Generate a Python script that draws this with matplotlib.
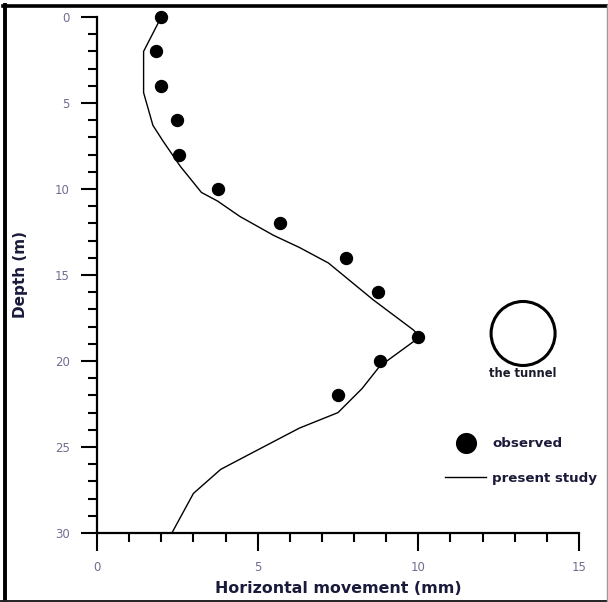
import matplotlib
matplotlib.use("Agg")
import matplotlib.pyplot as plt
from matplotlib.lines import Line2D
from matplotlib.patches import Ellipse

# observed data
obs_depth = [0, 2, 4, 6, 8, 10, 12, 14, 16, 18.6, 20, 22]
obs_move = [2.0, 1.85, 2.0, 2.5, 2.55, 3.75, 5.7, 7.75, 8.75, 10.0, 8.8, 7.5]

# present study
pred_depth = [0, 2.0, 4.4, 6.3, 7.2, 8.7, 10.2, 10.7, 11.6, 12.7, 13.4, 14.3,
              16.45, 18.2, 18.6, 20.3, 21.6, 23.0, 23.9, 25.2, 26.3, 27.7, 30]
pred_move = [2.0, 1.45, 1.45, 1.74, 2.05, 2.6, 3.25, 3.75, 4.45, 5.5, 6.3, 7.2,
             8.6, 9.85, 10.05, 8.8, 8.25, 7.5, 6.3, 4.97, 3.85, 3.0, 2.33]

x_ticks = [0, 5, 10, 15]
y_ticks = [0, 5, 10, 15, 20, 25, 30]

tunnel_center = (13.26, 18.4)

W, H = 608, 602
fig = plt.figure(figsize=(W / 100, H / 100), dpi=100)
ax = fig.add_axes([97 / W, 1 - 533 / H, (579 - 97) / W, (533 - 17) / H])

ax.plot(pred_move, pred_depth, color="black", lw=1.0, label="present study",
        clip_on=False, zorder=3)
ax.plot(obs_move, obs_depth, linestyle="none", marker="o", markersize=8.6,
        color="black", label="observed", clip_on=False, zorder=4)

ax.set_xlim(0, 15)
ax.set_ylim(30, 0)

for s in ["top", "right"]:
    ax.spines[s].set_visible(False)
for s in ["left", "bottom"]:
    ax.spines[s].set_linewidth(1.6)

tick_color = "#6e6e92"
ax.set_xticks(x_ticks)
ax.set_yticks(y_ticks)
ax.set_xticks([i for i in range(16) if i % 5], minor=True)
ax.set_yticks([i for i in range(31) if i % 5], minor=True)
ax.tick_params(axis="x", which="major", direction="out", length=13, width=1.5,
               pad=7, labelsize=8.5, labelcolor=tick_color)
ax.tick_params(axis="y", which="major", direction="out", length=11.5, width=1.5,
               pad=8, labelsize=8.5, labelcolor=tick_color)
ax.tick_params(which="minor", direction="out", length=6.5, width=1.5)

ax.set_xlabel("Horizontal movement (mm)", fontsize=11.4, fontweight="bold",
              color="#1a1a3a", labelpad=5)
ax.set_ylabel("Depth (m)", fontsize=11, fontweight="bold", color="#1a1a3a")
ax.yaxis.set_label_coords(-0.143, 0.5)

# tunnel
circ = Ellipse(tunnel_center, width=64 / 32.13, height=64 / 17.2, fill=False,
               edgecolor="black", lw=2.2, zorder=3)
ax.add_patch(circ)
ax.text(tunnel_center[0], tunnel_center[1] + 2.35, "the tunnel", ha="center",
        va="center", fontsize=8.3, fontweight="bold", color="#1a1a2a")

handles, labels = ax.get_legend_handles_labels()
leg = ax.legend(handles[::-1], labels[::-1], loc="center left",
                bbox_to_anchor=(0.722, 0.1395), frameon=False,
                prop={"weight": "bold", "size": 9.6},
                handlelength=3.1, handletextpad=0.45, labelspacing=1.6,
                borderpad=0, borderaxespad=0, markerscale=1.65)
for t in leg.get_texts():
    t.set_color("#1a1a3a")

# figure frame
fig.add_artist(Line2D([3 / W, 1], [1 - 5.8 / H] * 2, color="black", lw=2.6,
                      transform=fig.transFigure))
fig.add_artist(Line2D([5.2 / W] * 2, [0, 1 - 4.5 / H], color="black", lw=2.8,
                      transform=fig.transFigure))
fig.add_artist(Line2D([0, 1], [1 - 600.8 / H] * 2, color="#222222", lw=1.4,
                      transform=fig.transFigure))
fig.add_artist(Line2D([606.5 / W] * 2, [0, 1 - 5 / H], color="#9a9a9a", lw=1.0,
                      transform=fig.transFigure))

fig.savefig("out.png", dpi=100)
